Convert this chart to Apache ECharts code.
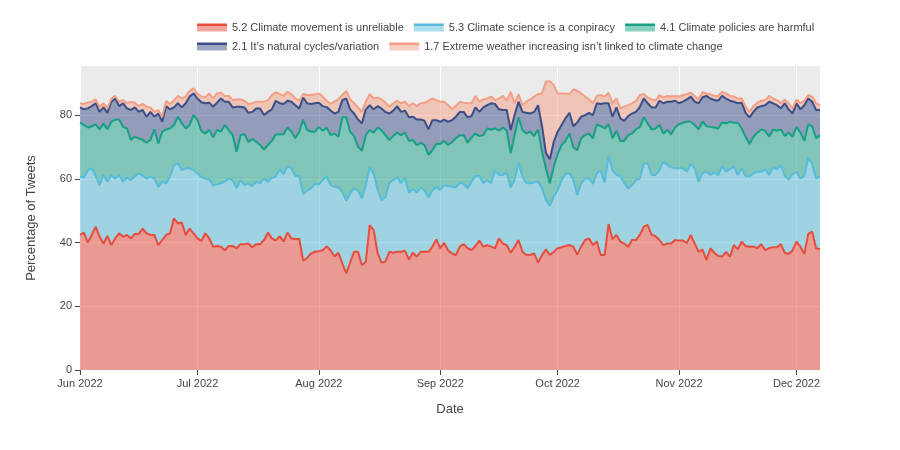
<!DOCTYPE html>
<html>
<head>
<meta charset="utf-8">
<script src="https://cdn.jsdelivr.net/npm/echarts@6/dist/echarts.min.js"></script>
<style>
  html, body { margin: 0; padding: 0; background: #fff; }
  #chart { width: 900px; height: 450px; }
</style>
</head>
<body>
<div id="chart"></div>
<script>
// daily share of tweets per claim, 1 Jun 2022 .. 7 Dec 2022
var unreliable = [
  42.4, 43.1, 40.0, 42.4, 45.0, 41.8, 39.7, 42.1, 39.2, 41.3,
  42.9, 41.8, 42.4, 41.3, 42.7, 42.7, 44.4, 42.9, 42.4, 42.4,
  39.2, 40.8, 42.4, 42.9, 47.6, 46.0, 46.3, 42.4, 44.4, 42.9,
  41.3, 40.5, 42.9, 41.3, 38.7, 38.9, 38.7, 37.6, 38.9, 38.9,
  38.2, 39.5, 39.5, 39.7, 38.5, 39.5, 39.5, 40.8, 43.1, 41.3,
  40.6, 42.0, 40.3, 43.1, 41.3, 41.1, 41.1, 34.3, 35.2, 36.6,
  37.1, 37.3, 37.6, 38.8, 37.6, 35.6, 36.8, 33.5, 30.3, 33.7,
  37.1, 37.1, 32.9, 34.0, 45.5, 43.9, 36.8, 33.7, 34.0, 37.1,
  36.8, 37.1, 37.1, 37.4, 34.7, 36.8, 35.6, 37.1, 37.1, 37.1,
  38.7, 41.0, 38.2, 39.9, 37.6, 36.6, 36.1, 38.7, 39.5, 38.2,
  37.6, 38.9, 40.6, 38.7, 39.2, 38.7, 38.2, 41.3, 39.7, 39.2,
  36.8, 38.7, 40.8, 37.1, 36.1, 36.1, 36.6, 33.7, 36.1, 37.9,
  36.1, 37.1, 38.2, 38.5, 38.9, 39.2, 38.7, 36.2, 38.7, 40.8,
  41.3, 39.2, 40.3, 36.1, 36.1, 45.8, 41.0, 42.4, 40.3, 39.7,
  38.7, 40.8, 40.8, 42.4, 45.0, 45.5, 42.4, 42.0, 40.8, 39.2,
  39.7, 39.7, 40.8, 40.6, 40.6, 39.9, 42.4, 39.7, 37.1, 37.8,
  34.5, 38.2, 36.8, 35.8, 35.6, 37.1, 35.6, 39.2, 37.9, 40.3,
  38.9, 38.7, 38.7, 38.2, 39.5, 37.6, 38.2, 38.5, 38.5, 39.5,
  36.8, 36.4, 37.6, 40.3, 38.7, 36.4, 42.7, 43.4, 38.2, 37.9
];
var conspiracy = [
  18.3, 17.3, 22.7, 20.9, 15.9, 16.2, 21.5, 17.0, 22.0, 18.8,
  18.3, 17.3, 18.0, 18.3, 18.0, 19.0, 16.5, 17.2, 18.3, 17.7,
  18.3, 18.3, 16.2, 17.8, 16.7, 18.8, 16.4, 20.9, 18.9, 19.8,
  20.4, 20.0, 17.2, 18.5, 19.3, 19.3, 19.9, 21.5, 21.2, 20.7,
  18.8, 20.1, 18.5, 18.9, 19.2, 19.6, 19.1, 19.3, 16.0, 19.0,
  20.1, 21.0, 21.2, 20.9, 22.0, 19.8, 19.8, 20.9, 21.1, 20.4,
  21.3, 20.9, 22.0, 22.0, 20.4, 21.9, 20.5, 22.4, 22.8, 21.7,
  19.9, 19.2, 21.0, 24.0, 18.1, 17.8, 19.9, 19.6, 20.2, 21.5,
  22.8, 23.3, 21.5, 23.0, 20.9, 19.9, 20.0, 20.2, 19.2, 17.1,
  17.6, 16.5, 18.3, 18.1, 20.1, 20.9, 21.2, 20.1, 18.9, 18.8,
  21.5, 22.0, 20.3, 19.9, 20.4, 19.9, 24.5, 19.9, 21.5, 22.7,
  20.5, 20.9, 24.2, 23.6, 22.5, 22.5, 22.2, 25.4, 20.9, 15.4,
  15.4, 17.3, 18.3, 21.1, 22.6, 22.5, 20.9, 18.7, 19.9, 19.3,
  18.8, 19.2, 21.4, 26.6, 22.7, 21.3, 21.7, 18.8, 20.6, 18.9,
  18.3, 17.2, 18.8, 17.7, 19.8, 19.3, 18.8, 19.2, 21.9, 26.2,
  24.6, 23.9, 22.5, 22.7, 22.7, 22.3, 22.2, 23.6, 22.0, 24.0,
  27.7, 23.0, 25.1, 25.4, 28.4, 25.1, 27.4, 24.6, 23.3, 23.0,
  22.0, 22.0, 23.0, 24.0, 22.7, 25.4, 23.0, 25.1, 24.5, 24.8,
  24.1, 23.4, 23.9, 21.9, 21.4, 24.5, 24.0, 21.2, 21.9, 22.8
];
var harmful = [
  16.9, 16.5, 13.4, 13.2, 16.2, 17.5, 16.2, 16.4, 16.7, 18.5,
  17.4, 17.2, 15.4, 12.6, 12.5, 11.0, 11.3, 11.2, 11.5, 15.4,
  13.6, 15.7, 16.9, 15.1, 12.6, 14.7, 14.7, 12.5, 13.6, 17.3,
  16.7, 14.5, 14.1, 15.5, 15.0, 17.1, 16.2, 17.8, 15.2, 14.1,
  11.5, 14.1, 16.0, 13.0, 14.8, 12.5, 12.0, 9.1, 11.5, 11.6,
  13.2, 11.0, 12.5, 12.1, 11.5, 11.8, 13.9, 23.4, 19.0, 17.8,
  16.4, 18.1, 15.5, 15.2, 15.7, 16.7, 15.9, 23.4, 26.2, 19.4,
  16.4, 13.8, 14.9, 15.7, 11.7, 12.8, 19.4, 22.0, 19.5, 13.6,
  13.8, 14.1, 15.1, 14.1, 16.3, 15.5, 15.0, 14.0, 14.3, 13.3,
  12.7, 13.4, 14.4, 13.9, 12.9, 14.0, 15.4, 14.9, 15.3, 14.3,
  13.9, 13.3, 12.5, 15.1, 16.2, 16.9, 13.1, 13.9, 14.9, 13.2,
  10.7, 14.1, 14.3, 14.6, 15.6, 16.2, 14.6, 16.4, 11.5, 10.0,
  7.1, 9.4, 11.3, 11.0, 10.4, 12.5, 10.3, 14.1, 14.1, 13.6,
  14.1, 14.3, 15.4, 13.8, 17.0, 10.0, 10.0, 13.9, 11.0, 13.3,
  16.7, 16.2, 15.9, 16.2, 14.5, 12.6, 14.3, 14.6, 14.2, 8.8,
  11.0, 10.4, 12.8, 13.8, 14.3, 15.7, 13.3, 13.6, 16.4, 16.2,
  14.3, 15.1, 14.2, 14.6, 13.6, 15.2, 14.9, 13.8, 16.4, 12.5,
  12.3, 10.2, 11.5, 12.3, 13.3, 12.1, 12.0, 11.9, 12.1, 11.2,
  12.5, 14.7, 11.7, 14.1, 14.4, 11.0, 10.4, 11.9, 12.6, 13.0
];
var natural = [
  4.8, 4.9, 6.0, 6.3, 6.6, 5.5, 5.0, 5.2, 6.3, 6.6,
  4.2, 7.4, 6.3, 9.4, 9.2, 8.3, 9.4, 8.2, 8.8, 4.0,
  9.4, 3.1, 7.3, 6.0, 5.5, 4.2, 5.0, 7.9, 8.9, 6.8,
  6.8, 9.0, 9.5, 8.6, 9.6, 8.6, 10.4, 7.3, 8.9, 8.7,
  14.1, 8.9, 8.4, 9.1, 8.5, 10.5, 11.5, 10.8, 10.4, 9.9,
  10.6, 9.7, 9.5, 8.4, 9.4, 10.4, 7.3, 6.9, 8.4, 8.7,
  8.9, 7.6, 7.7, 6.5, 7.7, 6.3, 7.8, 5.4, 5.9, 7.0,
  7.1, 8.5, 8.6, 8.1, 7.8, 7.3, 6.7, 6.8, 7.3, 8.3,
  8.0, 8.3, 7.3, 6.9, 7.4, 7.3, 8.0, 7.3, 7.6, 8.0,
  9.4, 7.5, 7.0, 6.7, 7.3, 6.9, 6.8, 7.3, 7.3, 8.0,
  6.7, 8.2, 7.6, 8.7, 7.3, 8.2, 7.7, 6.7, 5.5, 6.5,
  7.3, 6.3, 4.9, 5.7, 6.5, 5.7, 7.6, 7.6, 8.0, 4.9,
  7.5, 7.8, 7.0, 6.3, 7.1, 6.5, 6.6, 8.7, 6.8, 6.3,
  6.5, 7.3, 6.6, 7.0, 7.9, 6.6, 6.8, 7.3, 7.1, 6.3,
  6.0, 6.3, 5.5, 6.3, 5.9, 6.3, 6.9, 6.6, 7.6, 9.5,
  8.9, 10.2, 8.4, 6.6, 6.6, 7.0, 7.9, 7.3, 8.2, 7.6,
  9.5, 8.9, 8.6, 8.7, 8.4, 7.8, 6.6, 6.6, 6.1, 8.1,
  7.5, 8.4, 7.8, 7.9, 7.3, 8.0, 11.0, 8.2, 8.0, 6.6,
  10.3, 7.3, 7.3, 7.4, 7.3, 11.2, 8.1, 7.7, 8.9, 7.9
];
var weather = [
  1.3, 1.7, 1.8, 1.4, 1.2, 1.6, 1.3, 1.4, 1.0, 0.8,
  1.4, 1.0, 1.6, 2.6, 1.5, 1.8, 1.9, 3.1, 1.4, 1.5,
  1.0, 1.6, 1.7, 1.7, 2.3, 2.3, 2.8, 2.1, 1.8, 1.6,
  1.6, 1.8, 1.8, 2.9, 2.6, 2.9, 1.8, 1.8, 1.8, 2.3,
  2.3, 2.3, 2.1, 2.8, 2.7, 2.1, 2.1, 4.2, 3.7, 4.5,
  2.7, 2.9, 2.5, 2.8, 2.4, 2.1, 2.4, 1.1, 2.6, 2.8,
  2.8, 2.9, 3.0, 2.0, 2.1, 3.7, 3.9, 1.6, 2.4, 3.1,
  3.2, 3.8, 3.6, 2.4, 3.5, 3.4, 2.7, 2.8, 2.9, 2.1,
  2.3, 1.7, 2.7, 2.8, 3.5, 4.2, 4.2, 5.1, 5.7, 9.0,
  6.8, 6.3, 6.3, 5.6, 5.2, 3.5, 3.3, 3.2, 2.9, 4.4,
  4.0, 3.6, 3.2, 2.5, 2.1, 2.1, 1.2, 3.4, 4.4, 2.9,
  12.0, 3.7, 2.4, 2.1, 3.5, 4.4, 4.8, 3.5, 10.3, 22.3,
  24.4, 17.8, 12.0, 9.9, 7.8, 5.9, 11.6, 9.9, 7.3, 5.8,
  4.2, 3.7, 2.3, 2.8, 2.1, 3.3, 4.2, 2.8, 3.1, 4.4,
  3.4, 3.2, 3.5, 3.7, 1.4, 1.8, 2.5, 2.1, 1.8, 1.8,
  1.8, 1.6, 1.5, 2.1, 2.1, 1.7, 1.2, 1.8, 1.2, 1.6,
  0.8, 1.4, 1.3, 1.5, 1.3, 1.6, 1.5, 1.6, 1.5, 1.3,
  1.9, 1.7, 1.8, 1.5, 1.7, 1.6, 1.8, 1.5, 1.6, 1.6,
  1.2, 1.9, 1.6, 1.2, 1.9, 1.4, 1.1, 1.6, 2.1, 1.5
];

var seriesNames = [
  '5.2 Climate movement is unreliable',
  '5.3 Climate science is a conpiracy',
  '4.1 Climate policies are harmful',
  '2.1 It\u2019s natural cycles/variation',
  '1.7 Extreme weather increasing isn\u2019t linked to climate change'
];
var seriesValues = [unreliable, conspiracy, harmful, natural, weather];
var lineColors = ['#e74c3c', '#56bcd9', '#16a085', '#3b4e87', '#f39f85'];
var monthNames = ['Jan', 'Feb', 'Mar', 'Apr', 'May', 'Jun', 'Jul', 'Aug', 'Sep', 'Oct', 'Nov', 'Dec'];
var yTicks = [0, 20, 40, 60, 80];

// one category per day, starting 1 Jun 2022
var dates = [];
for (var i = 0; i < unreliable.length; i++) {
  dates.push(new Date(2022, 5, 1 + i));
}
var dayLabels = dates.map(function (d) {
  return d.getFullYear() + '-' + (d.getMonth() + 1) + '-' + d.getDate();
});

function isMonthStart(index) {
  return dates[index].getDate() === 1;
}

var fontFamily = '"Liberation Sans", Arial, sans-serif';

function alpha(hex, a) {
  var r = parseInt(hex.substr(1, 2), 16);
  var g = parseInt(hex.substr(3, 2), 16);
  var b = parseInt(hex.substr(5, 2), 16);
  return 'rgba(' + r + ',' + g + ',' + b + ',' + a + ')';
}

function legendItem(k) {
  return {
    name: seriesNames[k],
    icon: 'rect',
    itemStyle: {
      borderWidth: 0,
      color: new echarts.graphic.LinearGradient(0, 0, 0, 1, [
        { offset: 0, color: lineColors[k] },
        { offset: 0.3, color: lineColors[k] },
        { offset: 0.3, color: alpha(lineColors[k], 0.5) },
        { offset: 1, color: alpha(lineColors[k], 0.5) }
      ])
    }
  };
}

var legendBase = {
  left: 197,
  padding: 0,
  itemWidth: 30,
  itemHeight: 8,
  itemGap: 10,
  selectedMode: false,
  textStyle: { fontSize: 11, color: '#444', fontFamily: fontFamily }
};

// fills first (stacked), then the outlines on top with the same stacking
var series = [];
seriesValues.forEach(function (vals, k) {
  series.push({
    name: seriesNames[k],
    type: 'line',
    stack: 'fills',
    symbol: 'none',
    data: vals,
    lineStyle: { width: 0 },
    itemStyle: { color: lineColors[k] },
    areaStyle: { color: lineColors[k], opacity: 0.5 },
    emphasis: { disabled: true }
  });
});
seriesValues.forEach(function (vals, k) {
  series.push({
    name: seriesNames[k],
    type: 'line',
    stack: 'lines',
    symbol: 'none',
    data: vals,
    lineStyle: { width: 2, color: lineColors[k] },
    itemStyle: { color: lineColors[k] },
    emphasis: { disabled: true }
  });
});

var chart = echarts.init(document.getElementById('chart'));
chart.setOption({
  animation: false,
  textStyle: { fontFamily: fontFamily },
  legend: [
    Object.assign({}, legendBase, { top: 22, data: [0, 1, 2].map(legendItem) }),
    Object.assign({}, legendBase, { top: 41, data: [3, 4].map(legendItem) })
  ],
  grid: {
    left: 80, right: 80, top: 66, bottom: 80,
    show: true, backgroundColor: '#ebebeb', borderWidth: 0
  },
  xAxis: {
    type: 'category',
    data: dayLabels,
    boundaryGap: false,
    name: 'Date',
    nameLocation: 'middle',
    nameGap: 33,
    nameTextStyle: { fontSize: 13, color: '#444', fontFamily: fontFamily },
    axisLine: { show: false },
    axisTick: { show: true, interval: isMonthStart, length: 5, lineStyle: { color: '#444' } },
    axisLabel: {
      interval: isMonthStart,
      fontSize: 11,
      color: '#444',
      margin: 8,
      formatter: function (val, index) {
        var d = dates[index];
        return monthNames[d.getMonth()] + ' ' + d.getFullYear();
      }
    },
    splitLine: { show: true, interval: isMonthStart, lineStyle: { color: '#fff', width: 1 } }
  },
  yAxis: {
    type: 'value',
    min: 0,
    max: 95.4,
    interval: 20,
    name: 'Percentage of Tweets',
    nameLocation: 'middle',
    nameGap: 42,
    nameTextStyle: { fontSize: 13, color: '#444', fontFamily: fontFamily },
    axisLine: { show: false },
    axisTick: { show: true, customValues: yTicks, length: 5, lineStyle: { color: '#444' } },
    axisLabel: { customValues: yTicks, fontSize: 11, color: '#444', margin: 8 },
    splitLine: { show: true, lineStyle: { color: '#fff', width: 1 } }
  },
  series: series
});
</script>
</body>
</html>
